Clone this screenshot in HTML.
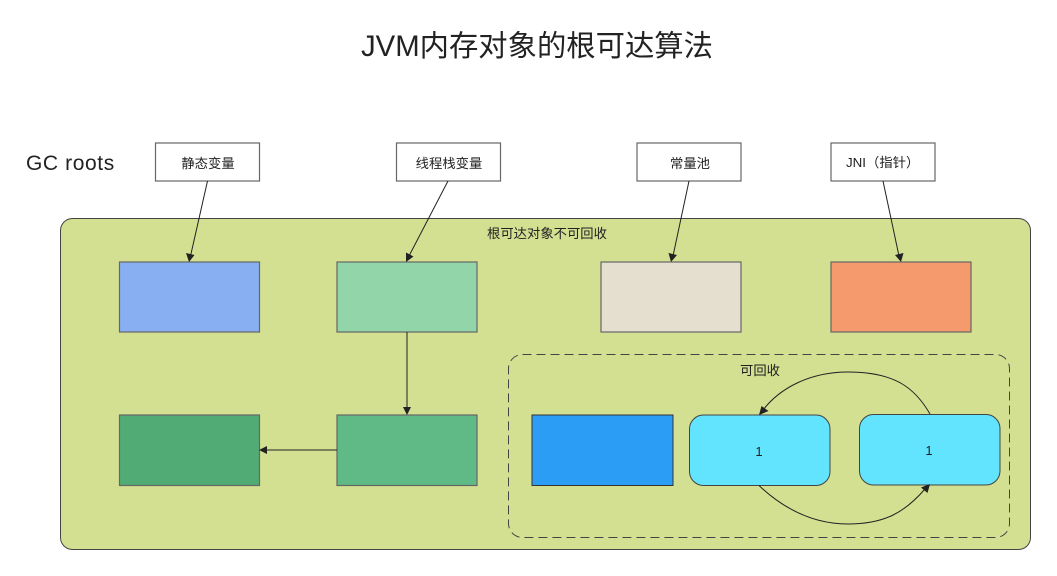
<!DOCTYPE html>
<html>
<head>
<meta charset="utf-8">
<style>
html,body{margin:0;padding:0;background:#fff;width:1057px;height:576px;overflow:hidden}
svg{display:block}
text{font-family:"Liberation Sans","Noto Sans CJK SC",sans-serif;fill:#222}
.b{stroke:#666;stroke-width:1.2}
.l{fill:none;stroke:#222;stroke-width:1}
.a{fill:#222;stroke:none}
</style>
</head>
<body>
<svg width="1057" height="576" viewBox="0 0 1057 576">
<text x="361" y="56" font-size="29.33">JVM内存对象的根可达算法</text>
<text x="26" y="170" font-size="21" letter-spacing="0.6">GC roots</text>

<rect x="60.5" y="218.5" width="970" height="331" rx="12" fill="#d3e091" stroke="#444" stroke-width="1"/>
<text x="547" y="238" text-anchor="middle" font-size="13.33">根可达对象不可回收</text>

<g fill="#fff" class="b">
<rect x="155.5" y="143" width="104" height="38"/>
<rect x="396.5" y="143" width="104" height="38"/>
<rect x="637" y="143" width="104" height="38"/>
<rect x="831" y="143" width="104" height="38"/>
</g>
<text x="208" y="168" text-anchor="middle" font-size="13.33">静态变量</text>
<text x="449" y="168" text-anchor="middle" font-size="13.33">线程栈变量</text>
<text x="690" y="168" text-anchor="middle" font-size="13.33">常量池</text>
<text x="846" y="167" font-size="13.33">JNI（指针）</text>

<g class="b">
<rect x="119.5" y="262" width="140" height="70" fill="#88aff2"/>
<rect x="337" y="262" width="140" height="70" fill="#92d5a8"/>
<rect x="601" y="262" width="140" height="70" fill="#e5dfd0"/>
<rect x="831" y="262" width="140" height="70" fill="#f49a6d"/>
<rect x="119.5" y="415" width="140" height="70.500" fill="#51ab75"/>
<rect x="337" y="415" width="140" height="70.500" fill="#60ba85"/>
</g>

<rect x="508.500" y="354.500" width="501" height="183" rx="14" fill="none" stroke="#444" stroke-width="1" stroke-dasharray="9 5"/>
<text x="760" y="375" text-anchor="middle" font-size="13.33">可回收</text>

<rect x="532" y="415" width="141" height="70.500" fill="#2b9df4" stroke="#333" stroke-width="1"/>
<rect x="689.500" y="415" width="140.500" height="70.500" rx="14" fill="#62e4ff" stroke="#444" stroke-width="1"/>
<rect x="859.500" y="414.500" width="140.500" height="70.500" rx="14" fill="#62e4ff" stroke="#444" stroke-width="1"/>
<text x="759" y="456" text-anchor="middle" font-size="13">1</text>
<text x="929" y="455" text-anchor="middle" font-size="13">1</text>

<line class="l" x1="207.500" y1="181" x2="190.500" y2="256"/>
<polygon class="a" points="189,262 186,253 194.500,255"/>
<line class="l" x1="448" y1="181" x2="409" y2="256"/>
<polygon class="a" points="406,262 406,252.500 413.500,256.500"/>
<line class="l" x1="689" y1="181" x2="673" y2="256"/>
<polygon class="a" points="671,262 668.500,253 677,255"/>
<line class="l" x1="883" y1="181" x2="899" y2="256"/>
<polygon class="a" points="901,262 895,255 903.500,253"/>
<line class="l" x1="407" y1="332" x2="407" y2="409"/>
<polygon class="a" points="407,415 403,407 411,407"/>
<line class="l" x1="337" y1="450" x2="265" y2="450"/>
<polygon class="a" points="259,450 267,446 267,454"/>

<path class="l" d="M930 414 C915 388 895 372 848 372 C810 372 780 388 763 410"/>
<polygon class="a" points="759,415 761.500,406 768.500,411"/>
<path class="l" d="M759 485.500 C785 510 815 524 848 524 C885 524 905 512 925 489"/>
<polygon class="a" points="930,484 927.500,493 921,487.500"/>
</svg>
</body>
</html>
